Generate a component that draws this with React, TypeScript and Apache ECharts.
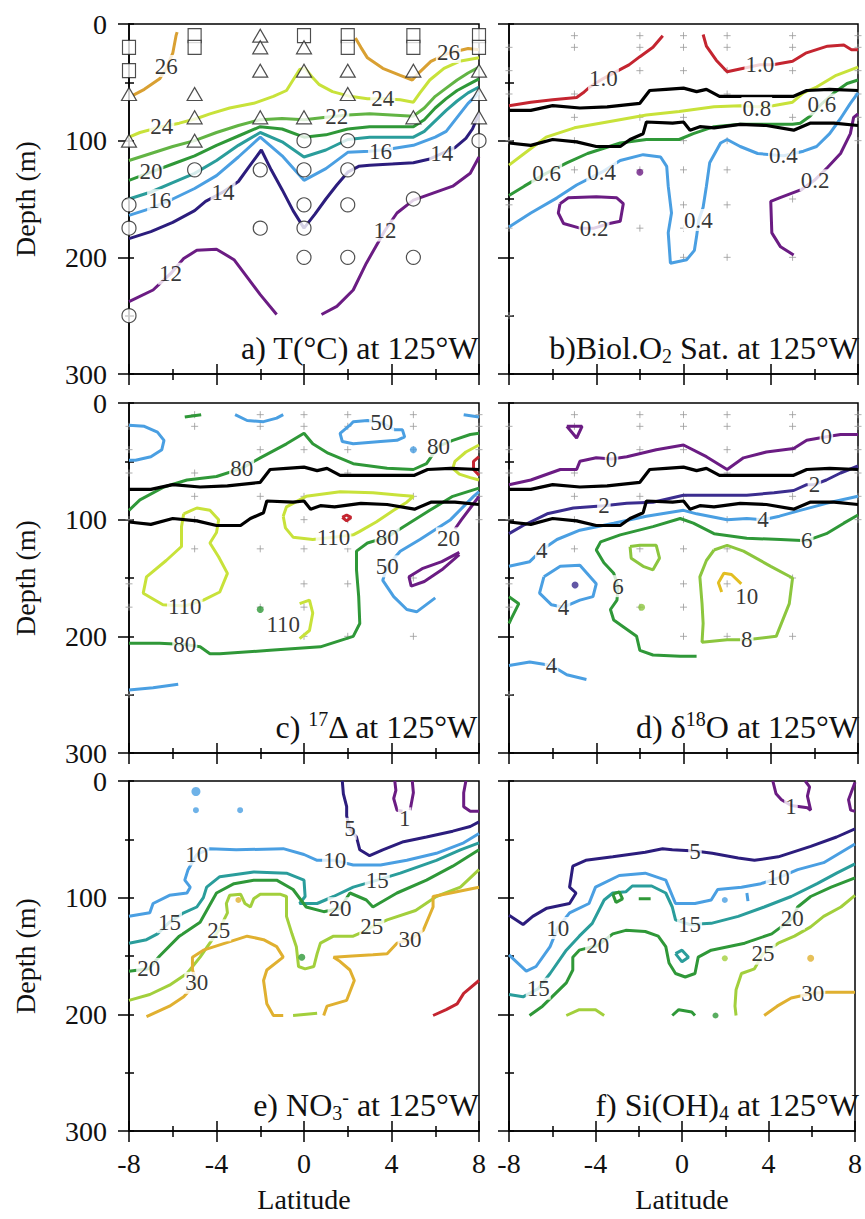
import React, { useEffect, useRef } from 'react';
import * as echarts from 'echarts';

// ---------- stations (latitude, depth) ----------
const STATION_SQ = [[-8,20],[-8,40],[-5,10],[-5,20],[0,10],[2,10],[2,20],[5,10],[5,20],[8,10],[8,20]];
const STATION_TRI = [[-8,60],[-8,100],[-5,60],[-5,80],[-5,100],[-2,10],[-2,20],[-2,40],[-2,80],[0,20],[0,40],[0,80],[2,40],[2,60],[5,40],[5,80],[8,40],[8,60],[8,80]];
const STATION_CIR = [[-8,155],[-8,175],[-8,250],[-5,125],[-2,125],[-2,175],[0,100],[0,125],[0,155],[0,175],[0,200],[2,100],[2,125],[2,155],[2,200],[5,150],[5,200],[8,100]];

// ---------- a) Temperature contours ----------
const T26 = [
  [[-7.8,61],[-7.3,56],[-6.6,47],[-6.3,38],[-6.0,25],[-5.85,10],[-5.8,7]],
  [[2.35,12],[2.6,20],[2.9,29],[3.6,38],[4.4,44],[4.95,48],[5.3,41],[5.8,32],[6.6,25],[7.5,21],[8,22]],
];
const T24 = [[[-8,97],[-7.5,93],[-6.5,88],[-5.7,85],[-4.9,81],[-4.3,77],[-3.4,72],[-2.3,68],[-1.4,62],[-0.8,57],[-0.5,48],[-0.2,39],[0.05,38],[0.35,45],[0.7,52],[1.3,58],[2.1,62],[2.9,64],[3.6,64],[4.4,65],[5.0,67],[5.3,59],[5.75,48],[6.4,38],[7.1,32],[8,29]]];
const T22 = [[[-8,117],[-7,111],[-6,105],[-5,100],[-4,93],[-3,87],[-2,82],[-1,81],[0,82],[1,80],[2,78],[3,77],[4,78],[5,79],[5.5,72],[6,62],[6.5,55],[7,48],[7.5,42],[8,37]]];
const T20 = [[[-8,134],[-7,127],[-6,120],[-5,113],[-4,104],[-3,96],[-2,88],[-1,90],[0,97],[1,95],[2,90],[3,88],[4,88],[5,88],[5.5,82],[6,72],[6.5,64],[7,57],[7.5,52],[8,47]]];
const T18 = [[[-8,150],[-7,144],[-6,136],[-5,128],[-4,117],[-3,104],[-2,93],[-1,101],[0,114],[1,108],[2,99],[3,97],[4,97],[5,97],[5.5,92],[6,83],[6.5,74],[7,66],[7.5,59],[8,54]]];
const T16 = [[[-8,164],[-7,158],[-6,150],[-5,141],[-4,130],[-3,114],[-2,97],[-1,113],[0,134],[1,124],[2,110],[3,109],[4,107],[5,104],[6,97],[6.5,92],[7,80],[7.5,68],[8,59]]];
const T14 = [[[-8,184],[-7,178],[-6,170],[-5,160],[-4.5,152],[-3.7,144],[-3,135],[-2.5,122],[-1.95,108],[-1.5,125],[-1,142],[-0.5,160],[0,175],[0.5,163],[1,150],[1.5,138],[2,127],[2.5,122],[3,121],[4,120],[5,119],[5.7,116],[6.3,111],[6.9,106],[7.4,98],[7.7,90],[8,77]]];
const T12 = [
  [[-8,238],[-6.9,228],[-6.1,214],[-5.5,201],[-4.9,194],[-4,193],[-3.2,202],[-2.6,217],[-2,232],[-1.25,249]],
  [[0.8,249],[1.5,242],[2.25,228],[2.85,205],[3.7,177],[4.25,162],[5,151],[5.9,145],[6.8,139],[7.6,128],[8,114]],
];
const LAB_A = [['26',-6.3,36],['26',6.6,24],['24',-6.5,88],['24',3.6,64],['22',1.5,79],['20',-7.0,126],['16',-6.6,151],['16',3.5,109],['14',-3.7,144],['14',6.3,111],['12',-6.1,214],['12',3.7,177]];

// ---------- mixed-layer / euphotic lines (b, c, d) ----------
const BLACK_UP = [[-8,74],[-7,74],[-6,70],[-4.75,72],[-3.5,71],[-2,68],[-1.55,57],[-0.8,56],[0,55],[0.6,58],[1.05,56],[1.65,62],[2.9,62],[4.1,62],[5.05,62],[5.65,57],[6.7,56],[8,57]];
const BLACK_LO = [[-8,102],[-7,104],[-6,99],[-4.9,101],[-4,105],[-2.9,105],[-2.45,99],[-1.85,94],[-1.7,84],[-0.5,85],[0,84],[0.3,91],[0.75,88],[1.4,89],[2.6,86],[3.8,87],[5.05,91],[5.8,85],[6.9,85],[8,87]];

// ---------- b) Biological O2 supersaturation ----------
const B10 = [
  [[-8,70],[-7,67],[-6,65],[-4.9,63],[-4.6,59],[-4.3,54],[-3.7,47],[-3,40],[-2.5,35],[-2,28],[-1.4,20],[-0.95,10]],
  [[0.9,9],[1.05,19],[1.5,31],[2.0,41],[2.75,38],[3.5,35],[4.1,35],[5.0,32],[5.6,25],[6.6,19],[7.35,18],[7.7,22],[8,22]],
];
const B08 = [[[-8,121],[-7.3,111],[-6.3,97],[-5,89],[-3.5,84],[-1.7,78],[-0.2,75],[1.4,71],[2.6,70],[3.4,71],[4.1,70],[5.0,67],[5.5,59],[6.1,54],[7.0,44],[8,37]]];
const B06 = [[[-8,147],[-7.3,139],[-6.3,128],[-5.35,119],[-4.4,111],[-2.9,102],[-1.7,99],[-0.2,99],[0.45,94],[1.4,88],[2.6,86],[3.8,86],[5.0,86],[5.35,85],[5.8,79],[6.3,69],[6.9,59],[7.5,51],[8,48]]];
const B04 = [[[-8,174],[-7,162],[-5.8,149],[-4.9,138],[-3.75,127],[-2.9,117],[-1.85,112],[-1.05,114],[-0.77,122],[-0.7,139],[-0.55,162],[-0.7,179],[-0.6,205],[0.15,202],[0.5,194],[0.6,182],[0.7,168],[0.9,157],[1.05,139],[1.2,119],[1.7,102],[2.0,99],[2.6,105],[3.4,111],[4.6,113],[5.5,109],[6.1,105],[6.7,94],[7.2,81],[7.65,68],[8,59]]];
const B02 = [
  [[-5.66,154],[-5.28,149],[-4,148],[-3.06,149],[-2.76,154],[-2.9,169],[-3.4,171],[-4.1,175],[-4.75,175],[-5.5,171],[-5.74,162],[-5.66,154]],
  [[8,77],[7.8,80],[7.65,94],[7.2,111],[6.6,123],[6.0,134],[5.4,142],[4.4,149],[4.0,152],[4.05,179],[4.45,191],[5.05,198]],
];
const DOT_B = [[-2,127,'#6b1c83']];
const LAB_B = [['1.0',-3.67,47],['1.0',3.5,35],['0.8',3.36,72],['0.6',-6.27,128],['0.6',6.34,69],['0.4',-3.75,127],['0.4',0.68,168],['0.4',4.58,113],['0.2',-4.1,175],['0.2',6.03,134]];

// ---------- c) 17-Delta ----------
const C50 = [
  [[-8,19],[-7.3,20],[-6.7,25],[-6.4,32],[-6.5,40],[-7,46],[-7.7,49],[-8,49]],
  [[-3.15,10],[-2.6,15],[-1.85,16],[-1.25,13],[-0.95,10]],
  [[2.1,19],[1.65,26],[1.75,33],[2.25,35],[3.5,33],[4.25,32],[4.6,29],[4.5,23],[4.15,23],[3.55,17],[2.9,15],[2.25,16],[2.1,19]],
  [[7.3,10],[8,12]],
  [[8,76],[7.75,80],[6.7,100],[5.3,117],[4.4,127],[3.8,140],[3.6,152],[4.1,166],[4.7,177],[5.15,179],[6.0,167]],
  [[-8,246],[-6.9,244],[-5.75,241]],
];
const C80 = [
  [[-5.45,12],[-4.7,10]],
  [[-8,92],[-7.5,83],[-6.4,72],[-5.35,66],[-4,63],[-2.85,56],[-2,47],[-0.8,35],[0,26],[0.4,35],[1.1,43],[2.25,52],[3.8,56],[5,57],[5.6,52],[6.15,37],[6.8,32],[7.6,27],[8,26]],
  [[8,73],[6.8,80],[5.75,92],[4.55,106],[3.8,115],[2.9,120],[2.4,127],[2.4,143],[2.5,166],[2.55,189],[2.25,200],[0.75,209],[-1.55,212],[-3.85,215],[-4.3,215],[-4.75,209],[-5.45,207],[-6.6,206],[-8,206]],
];
const C110 = [
  [[8,36],[7.4,42],[6.9,50],[6.8,56],[7.1,61],[7.6,64],[8,66]],
  [[-0.95,97],[-0.8,89],[0.1,80],[1.65,76],[3.15,77],[4.4,79],[5.0,80],[4.7,85],[4.1,92],[3.3,102],[2.55,110],[2.25,113],[1.35,115],[0.4,117],[-0.5,115],[-0.85,107],[-0.95,97]],
  [[-5.5,95],[-4.9,90],[-4.3,92],[-3.9,100],[-4,111],[-4.3,120],[-3.9,132],[-3.5,146],[-3.85,162],[-4.6,169],[-5.45,174],[-6.45,173],[-7.35,163],[-7.2,149],[-6.3,135],[-5.6,123],[-5.6,106],[-5.5,95]],
  [[-0.2,172],[0.25,169],[0.4,180],[0.25,195],[-0.2,202]],
];
const C140 = [
  [[1.75,98],[1.95,96],[2.15,98],[1.95,101],[1.75,98]],
  [[8,46],[7.75,50],[7.75,57],[8,62]],
];
const C20 = [
  [[8,80],[7.6,90],[7.2,100],[6.9,108]],
  [[7.1,128],[6.3,136],[5.4,142],[4.8,149],[4.9,157],[5.5,153],[6.3,143],[7.1,130]],
];
const DOT_C = [[5.0,40,'#4a9fe2'],[-2.0,177,'#2f9838']];
const LAB_C = [['50',3.55,17],['80',-2.85,56],['80',6.15,37],['110',1.35,115],['80',3.8,115],['20',6.6,116],['50',3.8,140],['110',-5.45,174],['110',-0.95,190],['80',-5.45,207]];

// ---------- d) delta 18O ----------
const D0 = [
  [[-5.35,20],[-4.65,20],[-4.9,30],[-5.35,20]],
  [[-8,70],[-7,66],[-5.65,57],[-4.9,57],[-4.75,50],[-4,47],[-3.3,48],[-2.6,46],[-1.25,40],[0,36],[1.05,46],[2,57],[2.75,47],[3.8,42],[5.05,39],[5.65,32],[6.55,29],[7.2,27],[8,27]],
];
const D2 = [[[-8,112],[-7.35,105],[-6.25,95],[-5.05,90],[-3.65,88],[-2.6,86],[-1.4,85],[0,79],[1.4,79],[2.9,79],[4.15,77],[5.05,75],[5.65,70],[6.0,70],[6.55,66],[7.2,60],[8,54]]];
const D4 = [
  [[-8,140],[-7.05,136],[-6.5,126],[-5.8,117],[-4.75,109],[-3.2,103],[-1.7,97],[0,92],[0.6,95],[2,100],[2.9,99],[3.65,100],[4.4,97],[5.35,92],[6.55,86],[8,80]],
  [[-6.4,149],[-5.65,140],[-4.75,139],[-4,155],[-4.15,166],[-4.75,169],[-5.5,175],[-6.05,173],[-6.6,163],[-6.4,149]],
  [[-8,225],[-7.05,222],[-6.05,225],[-5.35,233],[-4.45,237]],
];
const D6 = [
  [[8,96],[7.35,103],[6.55,112],[5.65,118],[4.45,117],[2.9,116],[1.4,112],[0.45,103],[-0.15,99],[-1.4,106],[-2.9,113],[-3.8,119],[-4.0,126],[-3.65,137],[-3.2,146],[-3.0,157],[-3.05,169],[-3.35,177],[-3.2,186],[-2.75,192],[-2.15,200],[-2,212],[-1.4,216],[-0.15,217],[0.6,217]],
  [[-8,166],[-7.55,172],[-7.9,185],[-8,189]],
];
const D8 = [
  [[-2.45,123],[-2,122],[-1.25,122],[-1.1,133],[-1.4,143],[-1.85,140],[-2.4,133],[-2.45,123]],
  [[1.4,126],[2,122],[2.75,127],[4,140],[5.0,150],[4.85,172],[4.25,200],[2.9,203],[2,203],[0.85,205],[0.9,189],[0.85,172],[0.75,149],[1.05,135],[1.4,126]],
];
const D10 = [[[2.65,155],[2.2,147],[1.85,146],[1.6,154],[1.75,162]]];
const DOT_D = [[-4.97,156,'#3b2d8f'],[-1.92,175,'#8cc63e']];
const LAB_D = [['0',-3.3,48],['0',6.55,29],['2',-3.65,88],['2',6.0,70],['4',-6.5,126],['4',3.65,100],['4',-5.5,175],['4',-6.05,225],['6',5.65,118],['6',-3.0,157],['8',2.9,203],['10',2.9,166]];

// ---------- e) Nitrate ----------
const E1 = [
  [[4.15,0],[4.2,8],[4.1,15],[4.25,25],[4.5,26]],
  [[4.95,0],[5.0,10],[4.85,25]],
  [[7.4,0],[7.3,10],[7.3,22],[7.6,26],[8,26]],
];
const E5 = [[[1.75,0],[1.8,11],[1.95,22],[1.95,30],[2.1,41],[2.4,48],[2.55,59],[3.0,64],[3.6,59],[4.55,52],[5.6,48],[6.8,43],[7.6,39],[8,35]]];
const E10 = [[[-8,116],[-7.05,113],[-6.9,105],[-6.15,98],[-5.35,96],[-5.2,91],[-5.45,85],[-5.3,76],[-4.9,63],[-4.3,58],[-3.1,59],[-0.95,58],[0,63],[0.6,68],[1.4,68],[2.25,72],[3.5,72],[4.7,68],[6.05,62],[7.3,53],[8,45]]];
const E15 = [[[-8,139],[-7.2,136],[-6.7,131],[-6.15,121],[-5.5,113],[-4.9,108],[-4.6,100],[-4.45,91],[-3.85,82],[-2.3,78],[-0.8,79],[0,85],[0.05,99],[-0.2,105],[0.6,105],[1.35,99],[2.25,91],[3.35,85],[4.4,79],[6.05,68],[7.15,59],[8,53]]];
const E20 = [[[-8,163],[-7.1,161],[-6.6,150],[-5.7,133],[-4.75,121],[-4,96],[-3.2,88],[-2.3,85],[-1.25,85],[-0.5,93],[0.1,108],[0.9,112],[1.65,109],[2.1,96],[2.85,102],[3.15,108],[4.25,96],[5.6,85],[6.8,73],[8,59]]];
const E25 = [
  [[-8,188],[-7.05,183],[-6.15,175],[-5.35,165],[-4.75,151],[-3.9,128],[-3.5,113],[-3.55,105],[-3.4,98],[-2.9,97],[-2.7,105],[-2.45,108],[-2.3,101],[-2,97],[-1.1,97],[-0.8,99],[-0.8,116],[-0.55,131],[-0.35,142],[-0.25,159],[0.05,161],[0.45,159],[0.6,148],[0.75,139],[1.35,133],[2.25,133],[2.85,128],[3.1,125],[3.8,119],[5.1,111],[6.05,99],[7.15,91],[8,76]],
  [[-0.5,201],[0.6,199]],
];
const E30 = [
  [[-7.2,202],[-6.15,193],[-5.5,185],[-4.9,173],[-5.1,162],[-5.1,151],[-4.6,145],[-2.6,133],[-1.85,136],[-1.25,142],[-0.95,151],[-1.7,162],[-1.85,171],[-1.7,191],[-1.4,201],[-0.95,201]],
  [[8,91],[6.7,96],[5.9,99],[5.9,108],[5.45,128],[4.85,136],[4.25,139],[3.8,148],[3.15,149],[2.2,150],[1.35,151],[1.6,154],[2.1,162],[2.3,171],[1.95,188],[1.05,193],[0.9,201]],
];
const E35 = [[[5.9,201],[6.5,196],[7,191],[7.3,182],[8,171]]];
const DOT_E = [[-4.94,9,'#4a9fe2',9],[-4.94,25,'#4a9fe2',6],[-2.92,25,'#4a9fe2',6],[-0.1,151,'#2f9838',7],[-3.0,102,'#e0b030',6]];
const LAB_E = [['5',2.1,41],['1',4.6,32],['10',-4.9,63],['10',1.4,68],['15',-6.15,121],['15',3.35,85],['20',-7.1,161],['20',1.65,109],['25',-3.9,128],['25',3.1,125],['30',-4.9,173],['30',4.85,136]];

// ---------- f) Silicate ----------
const F1 = [
  [[4.2,0],[4.35,11],[4.6,16],[5.05,21],[5.8,23],[5.95,25],[5.8,13],[5.9,5],[5.7,0]],
  [[8,1],[7.7,16],[7.8,25],[8,26]],
];
const F5 = [[[-8,115],[-7.35,123],[-6.9,116],[-6.25,109],[-5.2,105],[-4.9,96],[-5.2,91],[-5.05,73],[-4.45,68],[-3.2,65],[-1.7,61],[-0.9,58],[-0.45,59],[0.6,60],[1.4,62],[2.6,66],[3.35,68],[4.45,65],[5.95,56],[7.15,48],[8,41]]];
const F10 = [
  [[-8,149],[-7.2,163],[-6.75,159],[-6.1,142],[-5.75,126],[-5.2,113],[-4.3,105],[-4,91],[-2.9,81],[-1.7,79],[-0.75,85],[-0.3,105],[0.6,105],[1.35,102],[1.65,93],[2.75,91],[3.65,88],[4.45,83],[5.35,76],[6.55,70],[8,54]],
  [[3.0,96],[3.05,103]],
];
const F15 = [
  [[-8,183],[-7.35,185],[-6.65,178],[-6.1,165],[-5.35,145],[-4.75,133],[-4.15,122],[-3.6,102],[-3.2,96],[-2.6,95],[-2.3,90],[-1.4,90],[-0.75,96],[-0.45,108],[-0.3,119],[0.35,123],[1.35,122],[2.6,116],[3.8,108],[5.05,99],[6.25,88],[7.15,79],[8,71]],
  [[-0.3,148],[0,145],[0.3,151],[0,155],[-0.3,148]],
];
const F20 = [
  [[-7.05,201],[-6.45,193],[-5.35,173],[-5.05,162],[-5.05,151],[-4.75,145],[-3.9,141],[-3.2,131],[-2.6,128],[-1.7,129],[-1.1,133],[-0.75,142],[-0.6,156],[-0.3,165],[0.15,168],[0.6,165],[0.75,151],[1.35,145],[2.9,139],[4.15,131],[5.1,118],[5.35,108],[5.95,99],[6.9,91],[8,83]],
  [[-3.2,97],[-2.9,95],[-2.75,101],[-3.05,104],[-3.2,97]],
  [[-2.0,101],[-1.45,101]],
  [[-0.45,201],[-0.15,196],[0.45,198],[0.6,201]],
];
const F25 = [
  [[2.5,201],[2.45,193],[2.5,179],[2.75,165],[3.35,161],[3.75,148],[4.45,139],[5.2,133],[5.95,125],[6.55,116],[7.35,108],[8,98]],
  [[-5.35,201],[-4.75,196],[-4,196],[-3.6,201]],
];
const F30 = [[[3.8,201],[4.4,193],[5.05,186],[6.05,182],[6.7,181],[8,181]]];
const DOT_F = [[1.98,102,'#4a9fe2',6],[1.55,201,'#2f9838',6],[1.98,152,'#a2cf3c',6],[5.95,152,'#e0b030',7]];
const LAB_F = [['1',5.04,22],['5',0.6,60],['10',4.45,83],['10',-5.75,126],['15',0.35,123],['15',-6.65,178],['20',5.1,118],['20',-3.9,141],['25',3.75,148],['30',6.05,182]];

const TITLES = [
  '{n|a) T(°C) at 125°W}',
  '{n|b)Biol.O}{sub|2}{n| Sat. at 125°W}',
  '{n|c) }{sup|17}{n|Δ at 125°W}',
  '{n|d) δ}{sup|18}{n|O at 125°W}',
  '{n|e) NO}{sub|3}{sup|-}{n| at 125°W}',
  '{n|f) Si(OH)}{sub|4}{n| at 125°W}',
];

const PURPLE = '#6b1c83', NAVY = '#2c1d7d', BLUE = '#4a9fe2', TEAL = '#2a9d9b', GREEN = '#2f9838', LGREEN = '#62b444', YELLOW = '#c8e23a', ORANGE = '#d9a032', RED = '#c42530', LIME = '#8cc63e', GOLD = '#e2be22', INDIGO = '#3b2d8f', LIME2 = '#a2cf3c', GOLD2 = '#e0b030';

const PANELS = [
  { lines: [[T26,ORANGE],[T24,YELLOW],[T22,LGREEN],[T20,GREEN],[T18,TEAL],[T16,BLUE],[T14,NAVY],[T12,PURPLE]], labels: LAB_A, dots: [], stations: true, plus: false, black: false },
  { lines: [[B10,RED],[B08,YELLOW],[B06,GREEN],[B04,BLUE],[B02,PURPLE]], labels: LAB_B, dots: DOT_B, stations: false, plus: true, black: true },
  { lines: [[C50,BLUE],[C80,GREEN],[C110,YELLOW],[C140,RED],[C20,PURPLE]], labels: LAB_C, dots: DOT_C, stations: false, plus: true, black: true },
  { lines: [[D0,PURPLE],[D2,INDIGO],[D4,BLUE],[D6,GREEN],[D8,LIME],[D10,GOLD]], labels: LAB_D, dots: DOT_D, stations: false, plus: true, black: true },
  { lines: [[E1,PURPLE],[E5,NAVY],[E10,BLUE],[E15,TEAL],[E20,GREEN],[E25,LIME2],[E30,GOLD2],[E35,RED]], labels: LAB_E, dots: DOT_E, stations: false, plus: false, black: false },
  { lines: [[F1,PURPLE],[F5,NAVY],[F10,BLUE],[F15,TEAL],[F20,GREEN],[F25,LIME2],[F30,GOLD2]], labels: LAB_F, dots: DOT_F, stations: false, plus: false, black: false },
];

const FONT = "'Liberation Serif', 'Times New Roman', Times, 'DejaVu Serif', serif";
const INK = '#111';

function buildOption() {
  const gridPos = [[129, 24], [509, 24], [129, 403], [509, 403], [129, 781], [509, 781]];
  const grids = gridPos.map(([l, t], i) => ({
    left: l, top: t, width: i % 2 === 0 ? 350 : 349, height: 350,
    show: true, borderColor: '#000', borderWidth: 1.5, backgroundColor: 'transparent',
  }));
  const xAxis: any[] = [];
  const yAxis: any[] = [];
  const tickLine = { color: '#000', width: 1.5 };
  const txt = { fontSize: 28, fontFamily: FONT, fontWeight: 'normal', color: INK };
  gridPos.forEach((_, i) => {
    const bottomRow = i >= 4;
    const leftCol = i % 2 === 0;
    xAxis.push({
      type: 'value', gridIndex: i, min: -8, max: 8, interval: 4, position: 'bottom',
      axisLine: { show: true, onZero: false, lineStyle: { color: '#000', width: 1.5 } },
      axisTick: { show: true, length: 11, lineStyle: tickLine },
      minorTick: { show: true, splitNumber: 2, length: 6, lineStyle: tickLine },
      splitLine: { show: false }, minorSplitLine: { show: false },
      axisLabel: { show: bottomRow, ...txt, margin: 18 },
      name: bottomRow ? 'Latitude' : '', nameLocation: 'middle', nameGap: 54,
      nameTextStyle: txt,
    });
    xAxis.push({
      type: 'value', gridIndex: i, min: -8, max: 8, interval: 4, position: 'bottom',
      axisLine: { show: false, onZero: false },
      axisTick: { show: true, inside: true, length: 10, lineStyle: tickLine },
      minorTick: { show: true, splitNumber: 2, length: 5, lineStyle: tickLine },
      splitLine: { show: false }, axisLabel: { show: false },
    });
    yAxis.push({
      type: 'value', gridIndex: i, min: 0, max: 300, interval: 100, inverse: true, position: 'left',
      axisLine: { show: true, onZero: false, lineStyle: { color: '#000', width: 1.5 } },
      axisTick: { show: true, length: 11, lineStyle: tickLine },
      minorTick: { show: true, splitNumber: 2, length: 4, lineStyle: tickLine },
      splitLine: { show: false }, minorSplitLine: { show: false },
      axisLabel: { show: leftCol, ...txt, margin: 22 },
      name: leftCol ? 'Depth (m)' : '', nameLocation: 'middle', nameGap: 90,
      nameTextStyle: txt,
    });
    yAxis.push({
      type: 'value', gridIndex: i, min: 0, max: 300, interval: 100, inverse: true, position: 'left',
      axisLine: { show: false, onZero: false },
      axisTick: { show: true, inside: true, length: 5, lineStyle: tickLine },
      minorTick: { show: true, splitNumber: 2, length: 5, lineStyle: tickLine },
      splitLine: { show: false }, axisLabel: { show: false },
    });
  });

  const series: any[] = [];
  const allStations = [...STATION_SQ, ...STATION_TRI, ...STATION_CIR];
  PANELS.forEach((p, i) => {
    const ax = { xAxisIndex: 2 * i, yAxisIndex: 2 * i };
    if (p.plus) {
      series.push({
        type: 'scatter', ...ax, data: allStations, symbol: 'path://M0,-5L0,5M-5,0L5,0', symbolSize: 7,
        itemStyle: { color: 'transparent', borderColor: '#9a9a9a', borderWidth: 1 }, z: 1, silent: true,
      });
    }
    p.lines.forEach(([segs, color]: any) => {
      segs.forEach((seg: number[][]) => {
        series.push({
          type: 'line', ...ax, data: seg, symbol: 'none', showSymbol: false,
          lineStyle: { color, width: 3 }, z: 3, silent: true,
        });
      });
    });
    if (p.black) {
      [BLACK_UP, BLACK_LO].forEach((seg) => {
        series.push({ type: 'line', ...ax, data: seg, symbol: 'none', lineStyle: { color: '#000', width: 3.2 }, z: 4, silent: true });
      });
    }
    if (p.dots.length) {
      series.push({
        type: 'scatter', ...ax, z: 4, silent: true,
        data: p.dots.map((d: any) => ({ value: [d[0], d[1]], symbolSize: d[3] || 7, itemStyle: { color: d[2] } })),
      });
    }
    if (p.stations) {
      const st = (data: number[][], symbol: string, size: any) => ({
        type: 'scatter', ...ax, data, symbol, symbolSize: size, z: 6, silent: true,
        itemStyle: { color: '#fff', borderColor: '#222', borderWidth: 1.2 },
      });
      series.push(st(STATION_SQ, 'rect', [13, 14]));
      series.push(st(STATION_TRI, 'triangle', [15, 13]));
      series.push(st(STATION_CIR, 'circle', 14));
    }
    series.push({
      type: 'scatter', ...ax, z: 7, silent: true, symbol: 'circle', symbolSize: 1,
      itemStyle: { color: 'rgba(0,0,0,0)' },
      data: p.labels.map((l: any) => ({ value: [l[1], l[2]], name: l[0] })),
      label: {
        show: true, position: 'inside', formatter: (q: any) => q.name,
        fontSize: 23, fontFamily: FONT, fontWeight: 'normal', color: '#000', backgroundColor: '#fff', padding: [0, 1], lineHeight: 22,
      },
    });
  });

  const titleTop = [330, 330, 709, 709, 1087, 1087];
  const titleRight = [386, 6, 386, 6, 386, 6];
  const title = TITLES.map((t, i) => ({
    text: t, right: titleRight[i], top: titleTop[i], padding: 0,
    textStyle: {
      fontWeight: 'normal', fontFamily: FONT,
      rich: {
        n: { fontSize: 32, fontFamily: FONT, fontWeight: 'normal', color: INK, lineHeight: 36 },
        sub: { fontSize: 20, fontFamily: FONT, fontWeight: 'normal', color: INK, lineHeight: 20, verticalAlign: 'bottom' },
        sup: { fontSize: 20, fontFamily: FONT, fontWeight: 'normal', color: INK, lineHeight: 20, verticalAlign: 'top' },
      },
    },
  }));

  return { animation: false, backgroundColor: '#fff', textStyle: { fontFamily: FONT }, title, grid: grids, xAxis, yAxis, series };
}

export default function App() {
  const ref = useRef<HTMLDivElement>(null);
  useEffect(() => {
    if (!ref.current) return;
    const chart = echarts.init(ref.current, undefined, { renderer: 'svg' });
    chart.setOption(buildOption() as any);
    return () => chart.dispose();
  }, []);
  return <div ref={ref} style={{ position: 'absolute', left: 0, top: 0, width: 865, height: 1219, background: '#fff' }} />;
}
